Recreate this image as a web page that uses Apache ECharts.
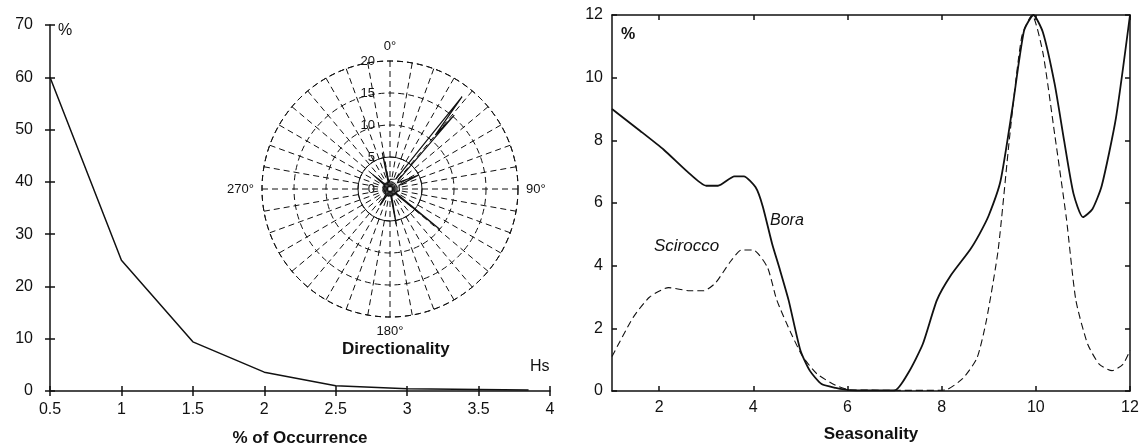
<!DOCTYPE html>
<html>
<head>
<meta charset="utf-8">
<script src="https://cdn.jsdelivr.net/npm/echarts@6/dist/echarts.min.js"></script>
<style>
  html, body { margin: 0; padding: 0; background: #fff; }
  #main { width: 1139px; height: 444px; }
</style>
</head>
<body>
<div id="main"></div>
<script>
// left: occurrence vs Hs
const hsVals = [0.5, 1, 1.5, 2, 2.5, 3, 3.5, 3.85];
const hsPct = [60, 25, 9.4, 3.6, 1.0, 0.45, 0.3, 0.2];

// inset: directionality (degrees, %)
const roseDir = [0, 30, 36, 38, 40, 41, 43, 50, 62, 64, 68, 100, 124, 129, 133, 150, 166, 170, 174, 205, 212, 218, 270, 305, 310, 316, 344, 348, 352, 360];
const roseR = [1.5, 1.8, 2, 18.3, 11, 15.3, 2, 1.5, 1.5, 5, 1.5, 1.5, 1, 10, 1, 1, 1, 5.6, 1, 1, 3, 1, 1, 1, 3.5, 1, 1, 5.8, 1, 1.5];
const compassLabels = [0, 90, 180, 270];

// right: seasonality
const boraMonth = [1, 1.6, 2.1, 2.6, 3.0, 3.25, 3.6, 3.8, 4.05, 4.2, 4.4, 4.55, 4.75, 5.0, 5.2, 5.45, 5.75, 6.05, 7.0, 7.3, 7.6, 7.9, 8.2, 8.6, 8.8, 9.0, 9.25, 9.5, 9.75, 9.95, 10.15, 10.4, 10.6, 10.8, 11.0, 11.2, 11.4, 11.7, 12];
const boraPct = [9.0, 8.3, 7.7, 7.0, 6.55, 6.55, 6.85, 6.85, 6.5, 5.9, 4.7, 3.95, 2.9, 1.3, 0.65, 0.22, 0.1, 0.03, 0.02, 0.6, 1.5, 2.9, 3.7, 4.5, 5.0, 5.6, 6.7, 9.0, 11.5, 12.0, 11.45, 9.8, 8.0, 6.3, 5.55, 5.8, 6.55, 8.7, 12.0];
const sciMonth = [1, 1.45, 1.8, 2.2, 2.65, 2.95, 3.2, 3.5, 3.75, 4.0, 4.3, 4.5, 4.8, 5.05, 5.35, 5.75, 6.05, 7.85, 8.1, 8.45, 8.75, 8.95, 9.2, 9.45, 9.7, 9.92, 10.15, 10.4, 10.65, 10.85, 11.1, 11.35, 11.62, 11.85, 12];
const sciPct = [1.1, 2.35, 3.0, 3.3, 3.2, 3.2, 3.45, 4.1, 4.5, 4.5, 3.95, 2.9, 1.85, 1.1, 0.55, 0.18, 0.04, 0.02, 0.04, 0.4, 1.05, 2.25, 4.5, 8.2, 11.3, 12.0, 10.8, 8.2, 5.5, 2.9, 1.5, 0.85, 0.65, 0.85, 1.3];
const monthTicks = [2, 4, 6, 8, 10, 12];

const zip = (a, b) => a.map((v, i) => [v, b[i]]);
const FONT = '"Liberation Sans", Arial, sans-serif';
const black = '#111';

const chart = echarts.init(document.getElementById('main'), null, { renderer: 'canvas' });

const baseLabel = { color: black, fontSize: 16, fontFamily: FONT };
const lineBlack = { color: black, width: 1.5 };
const nameStyle = { color: black, fontSize: 17, fontWeight: 'bold', fontFamily: FONT };
const polarR = 128;

var option = {
  animation: false,
  backgroundColor: '#fff',
  grid: [
    { left: 50, top: 25, width: 500, height: 366, outerBoundsMode: 'none', containLabel: false },
    { left: 612, top: 15, width: 518, height: 376, outerBoundsMode: 'none', containLabel: false }
  ],
  xAxis: [
    {
      gridIndex: 0, type: 'value', min: 0.5, max: 4, interval: 0.5,
      axisLine: { onZero: false, lineStyle: lineBlack },
      axisTick: { inside: false, length: 5, lineStyle: lineBlack },
      axisLabel: Object.assign({ margin: 11 }, baseLabel),
      splitLine: { show: false },
      name: '% of Occurrence', nameLocation: 'middle', nameGap: 39,
      nameTextStyle: nameStyle
    },
    {
      gridIndex: 0, type: 'value', min: 0.5, max: 4, interval: 0.5, position: 'bottom',
      axisLine: { show: false, onZero: false },
      axisTick: { inside: true, length: 5, lineStyle: lineBlack },
      axisLabel: { show: false }, splitLine: { show: false }
    },
    {
      gridIndex: 1, type: 'value', min: 1, max: 12,
      axisLine: { onZero: false, lineStyle: lineBlack },
      axisTick: { inside: true, length: 5, customValues: monthTicks, lineStyle: lineBlack },
      axisLabel: Object.assign({ margin: 9, customValues: monthTicks }, baseLabel),
      splitLine: { show: false },
      name: 'Seasonality', nameLocation: 'middle', nameGap: 35,
      nameTextStyle: nameStyle
    },
    {
      gridIndex: 1, type: 'value', min: 1, max: 12, position: 'top',
      axisLine: { onZero: false, lineStyle: lineBlack },
      axisTick: { inside: true, length: 5, customValues: monthTicks, lineStyle: lineBlack },
      axisLabel: { show: false }, splitLine: { show: false }
    }
  ],
  yAxis: [
    {
      gridIndex: 0, type: 'value', min: 0, max: 70, interval: 10,
      axisLine: { show: true, onZero: false, lineStyle: lineBlack },
      axisTick: { show: true, inside: false, length: 5, lineStyle: lineBlack },
      axisLabel: Object.assign({ margin: 17 }, baseLabel),
      splitLine: { show: false }
    },
    {
      gridIndex: 0, type: 'value', min: 0, max: 70, interval: 10, position: 'left',
      axisLine: { show: false, onZero: false },
      axisTick: { show: true, inside: true, length: 5, lineStyle: lineBlack },
      axisLabel: { show: false }, splitLine: { show: false }
    },
    {
      gridIndex: 1, type: 'value', min: 0, max: 12, interval: 2,
      axisLine: { show: true, onZero: false, lineStyle: lineBlack },
      axisTick: { show: true, inside: true, length: 5, lineStyle: lineBlack },
      axisLabel: Object.assign({ margin: 9 }, baseLabel),
      splitLine: { show: false }
    },
    {
      gridIndex: 1, type: 'value', min: 0, max: 12, interval: 2, position: 'right',
      axisLine: { show: true, onZero: false, lineStyle: lineBlack },
      axisTick: { show: true, inside: true, length: 5, lineStyle: lineBlack },
      axisLabel: { show: false }, splitLine: { show: false }
    }
  ],
  polar: [
    { center: [390, 189], radius: polarR },
    { center: [390, 189], radius: polarR / 4 }
  ],
  angleAxis: [
    {
      polarIndex: 0, type: 'value', min: 0, max: 360, interval: 10,
      startAngle: 90, clockwise: true,
      axisLine: { lineStyle: { color: black, width: 1, type: [6, 4] } },
      axisTick: { show: false },
      axisLabel: {
        color: black, fontSize: 13, fontFamily: FONT, margin: 8,
        formatter: v => compassLabels.indexOf(v) >= 0 ? v + '°' : ''
      },
      splitLine: { show: true, lineStyle: { color: black, width: 1, type: [6, 4] } }
    },
    {
      polarIndex: 1, type: 'value', min: 0, max: 360,
      startAngle: 90, clockwise: true,
      axisLine: { lineStyle: { color: black, width: 1 } },
      axisTick: { show: false }, axisLabel: { show: false },
      splitLine: { show: false }
    }
  ],
  radiusAxis: [
    {
      polarIndex: 0, type: 'value', min: 0, max: 20, interval: 5,
      axisLine: { show: false }, axisTick: { show: false },
      axisLabel: { color: black, fontSize: 13, fontFamily: FONT, margin: 15 },
      splitLine: { show: true, lineStyle: { color: black, width: 1, type: [6, 4] } }
    },
    {
      polarIndex: 1, type: 'value', min: 0, max: 5,
      axisLine: { show: false }, axisTick: { show: false },
      axisLabel: { show: false }, splitLine: { show: false }
    }
  ],
  graphic: [
    { type: 'text', left: 58, top: 23, style: { text: '%', fill: black, font: '16px ' + FONT } },
    { type: 'text', left: 530, top: 359, style: { text: 'Hs', fill: black, font: '16px ' + FONT } },
    { type: 'text', left: 342, top: 341, style: { text: 'Directionality', fill: black, font: 'bold 17px ' + FONT } },
    { type: 'text', left: 621, top: 27, style: { text: '%', fill: black, font: 'bold 16px ' + FONT } },
    { type: 'text', left: 770, top: 213, style: { text: 'Bora', fill: black, font: 'italic 16px ' + FONT } },
    { type: 'text', left: 654, top: 238, style: { text: 'Scirocco', fill: black, font: 'italic 17px ' + FONT } }
  ],
  series: [
    {
      type: 'line', xAxisIndex: 0, yAxisIndex: 0,
      data: zip(hsVals, hsPct), symbol: 'none',
      lineStyle: { color: black, width: 1.5 }
    },
    {
      type: 'line', coordinateSystem: 'polar', polarIndex: 0,
      data: zip(roseR, roseDir), symbol: 'none',
      lineStyle: { color: black, width: 1.2 }
    },
    {
      name: 'Bora', type: 'line', xAxisIndex: 2, yAxisIndex: 2,
      data: zip(boraMonth, boraPct), symbol: 'none', smooth: 0.2,
      lineStyle: { color: black, width: 1.8 }
    },
    {
      name: 'Scirocco', type: 'line', xAxisIndex: 2, yAxisIndex: 2,
      data: zip(sciMonth, sciPct), symbol: 'none', smooth: 0.2,
      lineStyle: { color: black, width: 1.1, type: [7, 4] }
    }
  ]
};
chart.setOption(option);
</script>
</body>
</html>
